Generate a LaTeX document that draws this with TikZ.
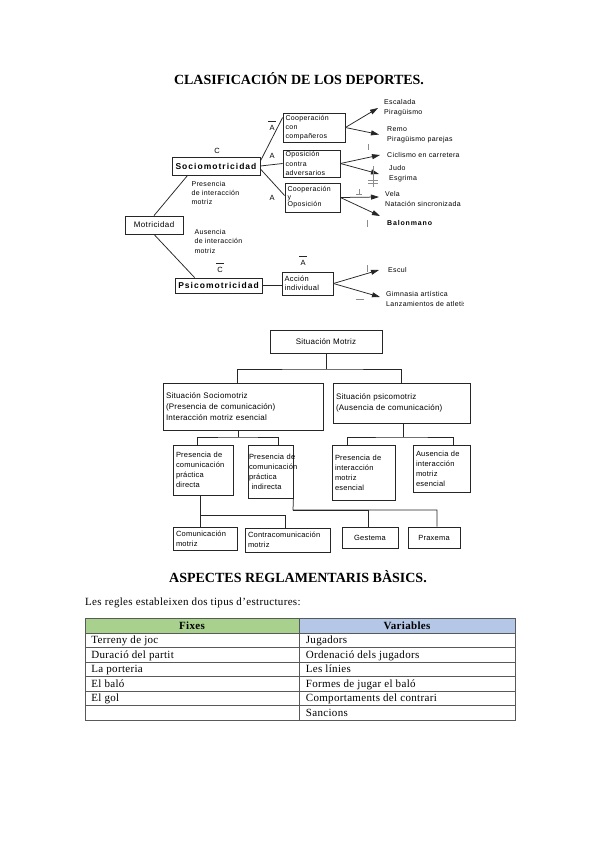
\documentclass[tikz,border=0pt]{standalone}
\usepackage{fontspec}
\setmainfont{Liberation Serif}
\newfontfamily\sA[LetterSpace=5]{Liberation Sans}
\newfontfamily\sB[LetterSpace=12]{Liberation Sans}
\newfontfamily\sC[LetterSpace=3]{Liberation Sans}
\newfontfamily\tA[LetterSpace=3]{Liberation Serif}
\usetikzlibrary{arrows.meta,calc}
\definecolor{hdrgreen}{HTML}{A9D18E}
\definecolor{hdrblue}{HTML}{B4C7E7}
\begin{document}
\begin{tikzpicture}[x=1pt,y=-1pt,
  cn/.style={draw=black!85, line width=0.75pt},
  ar/.style={cn, -{Triangle[length=8pt,width=5pt]}},
  tb/.style={draw=black!85, line width=0.8pt, inner xsep=2.5pt, inner ysep=0pt, align=left, font=\sA\fontsize{7}{9.3}\selectfont},
  bb/.style={draw=black!85, line width=0.85pt, inner sep=0pt, font=\sB\bfseries\fontsize{8.5}{10}\selectfont},
  tx/.style={inner ysep=0pt, anchor=west, align=left, font=\sA\fontsize{7}{9.8}\selectfont},
  lb/.style={inner sep=0pt, font=\sA\fontsize{7.5}{9}\selectfont},
  bar/.style={draw=black!85, line width=0.6pt},
  tick/.style={draw=black!45, line width=0.5pt},
  mb/.style={draw=black!85, line width=0.8pt, inner xsep=3pt, inner ysep=0pt, align=left, font=\sC\fontsize{8}{11}\selectfont},
  cell/.style={draw=black!65, line width=0.7pt, inner sep=0pt, minimum height=14.5pt},
  ctext/.style={anchor=base west, inner sep=0pt, font=\tA\fontsize{11}{12}\selectfont},
  hcell/.style={draw=black!65, line width=0.7pt, inner sep=0pt, minimum height=15pt},
  htext/.style={anchor=base, inner sep=0pt, font=\tA\bfseries\fontsize{11}{12}\selectfont},
  ttl/.style={inner sep=0pt, font=\bfseries\fontsize{14}{16}\selectfont}
]
\useasboundingbox (0,0) rectangle (599,848);
\fill[white] (0,0) rectangle (599,848);

% ---------- Title 1
\node[ttl] (t1) at (299,79) {CLASIFICACIÓN DE LOS DEPORTES.};

% ---------- Top diagram
\begin{scope}
\clip (120,95) rectangle (463,307);
\node[bb, minimum width=88pt, minimum height=18pt] (soc) at (216,166) {Sociomotricidad};
\node[lb] (cS) at (217,151) {C};
\node[tb, font=\sA\fontsize{8}{10}\selectfont, minimum width=58pt, minimum height=18pt, inner xsep=0pt] (mot) at (154,225) {Motricidad};
\node[bb, minimum width=87pt, minimum height=15pt] (psi) at (218.5,285.5) {Psicomotricidad};
\node[lb] (cP) at (220,270) {C};
\draw[bar] ($(cP.north)+(-4,-4)$) -- ++(8,0);

\node[tx, font=\sA\fontsize{7}{9}\selectfont] (pres) at (188,193) {Presencia\\de interacción\\motriz};
\node[tx, font=\sA\fontsize{7}{9.5}\selectfont] (aus) at (191,241) {Ausencia\\de interacción\\motriz};

\node[tb, text width=57pt, minimum height=29pt] (cc) at (314,127.5) {Cooperación\\con\\compañeros};
\node[tb, text width=52pt, minimum height=27pt] (op) at (311.5,163.5) {Oposición\\contra\\adversarios};
\node[tb, text width=50pt, minimum height=29pt, font=\sA\fontsize{7}{7.5}\selectfont] (co) at (312.5,197.5) {Cooperación\\y\\Oposición};
\node[tb, text width=46pt, minimum height=23pt, font=\sA\fontsize{7.5}{9.5}\selectfont] (ai) at (307.5,283.5) {Acción\\individual};

\node[lb] (a1) at (272,128) {A};
\draw[bar] ($(a1.north)+(-4,-4)$) -- ++(8,0);
\node[lb] (a2) at (272,156) {A};
\node[lb] (a3) at (272,198) {A};
\node[lb] (a4) at (303,263) {A};
\draw[bar] ($(a4.north)+(-4,-4)$) -- ++(8,0);

\draw[cn] (mot.north) -- ($(soc.south west)+(16,0)$);
\draw[cn] (mot.south) -- ($(psi.north west)+(20,0)$);
\draw[cn] ($(soc.east)+(0,-5)$) -- ($(cc.north west)+(0,5)$);
\draw[cn] (soc.east) -- (op.west);
\draw[cn] ($(soc.east)+(0,3)$) -- ($(co.west)+(0,-2)$);
\draw[cn] (psi.east) -- (psi.east -| ai.west);

\node[tx, inner xsep=6pt] (esc) at (378,108) {Escalada\\Piragüismo};
\node[tx, inner xsep=8pt] (remo) at (379,134.5) {Remo\\Piragüismo parejas};
\node[tx, inner xsep=7pt] (cic) at (380,155) {Ciclismo en carretera};
\node[tx, inner xsep=10pt] (judo) at (379,174) {Judo\\Esgrima};
\node[tx, inner xsep=6pt] (vela) at (379,199) {Vela\\Natación sincronizada};
\node[tx, inner xsep=7pt, font=\sB\bfseries\fontsize{7}{9}\selectfont] (bal) at (380,223) {Balonmano};
\node[tx, inner xsep=9pt] (escul) at (379,270) {Escul};
\node[tx, inner xsep=6pt] (gim) at (380,299) {Gimnasia artística\\Lanzamientos de atletismo};

\draw[ar] (cc.east) -- (esc.west);
\draw[ar] (cc.east) -- (remo.west);
\draw[ar] (op.east) -- (cic.west);
\draw[ar] (op.east) -- (judo.west);
\draw[ar] (co.east) -- ($(vela.west)+(0,-2)$);
\draw[ar] (co.east) -- ($(bal.west)+(0,-7)$);
\draw[ar] (ai.east) -- (escul.west);
\draw[ar] (ai.east) -- ($(gim.west)+(0,-2)$);

% scan marks
\draw[tick] (368,144) -- (368,150);
\draw[tick] (373,166) -- (373,187);
\draw[tick] (368,180) -- (378,180);
\draw[tick] (368,183) -- (378,183);
\draw[tick] (359,189) -- (359,194) (356,194) -- (362,194);
\draw[tick] (367,220) -- (367,227);
\draw[tick] (367,265) -- (367,272);
\draw[tick] (356,299) -- (364,299);
\end{scope}

% ---------- Middle diagram
\node[mb, align=center, minimum width=112pt, minimum height=23pt] (sm) at (326,341.5) {Situación Motriz};
\node[mb, text width=154pt, minimum height=47pt] (L1) at (243,406.5) {Situación Sociomotriz\\(Presencia de comunicación)\\Interacción motriz esencial};
\node[mb, text width=131pt, minimum height=40pt] (R1) at (401.5,403) {Situación psicomotriz\\(Ausencia de comunicación)};

\coordinate (j0) at (326,369);
\draw[cn] (sm.south) -- (j0);
\draw[cn] ($(L1.north)+(-6,0)$) |- (j0) -| (R1.north);

\node[mb, font=\sC\fontsize{7.5}{10}\selectfont, text width=54pt, minimum height=50pt] (d1) at (203,470) {Presencia de\\comunicación\\práctica\\directa};
\node[mb, font=\sC\fontsize{7.5}{10}\selectfont, inner xsep=1pt, text width=43pt, minimum height=53pt] (d2) at (270.5,471.5) {\mbox{Presencia de}\\\mbox{comunicación}\\práctica\\\mbox{ indirecta}};
\node[mb, font=\sC\fontsize{7.5}{10}\selectfont, text width=57pt, minimum height=55pt] (d3) at (363.5,472.5) {Presencia de\\interacción\\motriz\\esencial};
\node[mb, font=\sC\fontsize{7.5}{10}\selectfont, text width=51pt, minimum height=47pt] (d4) at (441.5,468.5) {Ausencia de\\interacción\\motriz\\esencial};

\coordinate (j1) at (238,437);
\draw[cn] (L1.south -| j1) -- (j1);
\draw[cn] ($(d1.north)+(-6,0)$) |- (j1) -| ($(d2.north)+(7.5,0)$);
\coordinate (j2) at (403,437);
\draw[cn] (R1.south -| j2) -- (j2);
\draw[cn] ($(d3.north)+(-16.5,0)$) |- (j2) -| ($(d4.north)+(11.5,0)$);

\node[mb, font=\sC\fontsize{7.5}{10}\selectfont, text width=58pt, minimum height=23pt] (c1) at (205,538.5) {Comunicación\\motriz};
\node[mb, font=\sC\fontsize{7.5}{10}\selectfont, text width=79pt, minimum height=24pt] (c2) at (287.5,540) {Contracomunicación\\motriz};
\node[mb, font=\sC\fontsize{7.5}{10}\selectfont, align=center, minimum width=56pt, minimum height=21pt] (g) at (370,537.5) {Gestema};
\node[mb, font=\sC\fontsize{7.5}{10}\selectfont, align=center, minimum width=52pt, minimum height=21pt] (p) at (434,537.5) {Praxema};

\coordinate (j3) at (200,515);
\draw[cn] (d1.south -| j3) -- (c1.north -| j3);
\draw[cn] (j3) -| ($(c2.north)+(-2.5,0)$);
\coordinate (j4) at (293,510);
\draw[cn] (d2.south east) -- (j4) -| ($(p.north)+(3,0)$);
\draw[cn] ($(g.north)+(-2,0)$) |- (j4);

% ---------- Title 2 and table
\node[ttl] (t2) at (298,577) {ASPECTES REGLAMENTARIS BÀSICS.};
\node[anchor=west, inner sep=0pt, font=\tA\fontsize{11}{12}\selectfont] (intro) at (85,603) {Les regles estableixen dos tipus d’estructures:};

\node[hcell, fill=hdrgreen, minimum width=214pt] (hF) at (192,625.5) {};
\node[hcell, fill=hdrblue, minimum width=216pt] (hV) at (407,625.5) {};
\node[htext] (hFt) at ($(hF.center)+(0,3.8)$) {Fixes};
\node[htext] (hVt) at ($(hV.center)+(0,3.8)$) {Variables};

\foreach \i/\y in {1/640.25,2/654.75,3/669.25,4/683.75,5/698.25,6/712.75}{
  \node[cell, minimum width=214pt] (l\i) at (192,\y) {};
  \node[cell, minimum width=216pt] (r\i) at (407,\y) {};
}
\node[ctext] (tl1) at ($(l1.west)+(6.5,3.3)$) {Terreny de joc};
\node[ctext] (tl2) at ($(l2.west)+(6.5,3.3)$) {Duració del partit};
\node[ctext] (tl3) at ($(l3.west)+(6.5,3.3)$) {La porteria};
\node[ctext] (tl4) at ($(l4.west)+(6.5,3.3)$) {El baló};
\node[ctext] (tl5) at ($(l5.west)+(6.5,3.3)$) {El gol};
\node[ctext] (tr1) at ($(r1.west)+(7,3.3)$) {Jugadors};
\node[ctext] (tr2) at ($(r2.west)+(7,3.3)$) {Ordenació dels jugadors};
\node[ctext] (tr3) at ($(r3.west)+(7,3.3)$) {Les línies};
\node[ctext] (tr4) at ($(r4.west)+(7,3.3)$) {Formes de jugar el baló};
\node[ctext] (tr5) at ($(r5.west)+(7,3.3)$) {Comportaments del contrari};
\node[ctext] (tr6) at ($(r6.west)+(7,3.3)$) {Sancions};
\end{tikzpicture}
\end{document}
